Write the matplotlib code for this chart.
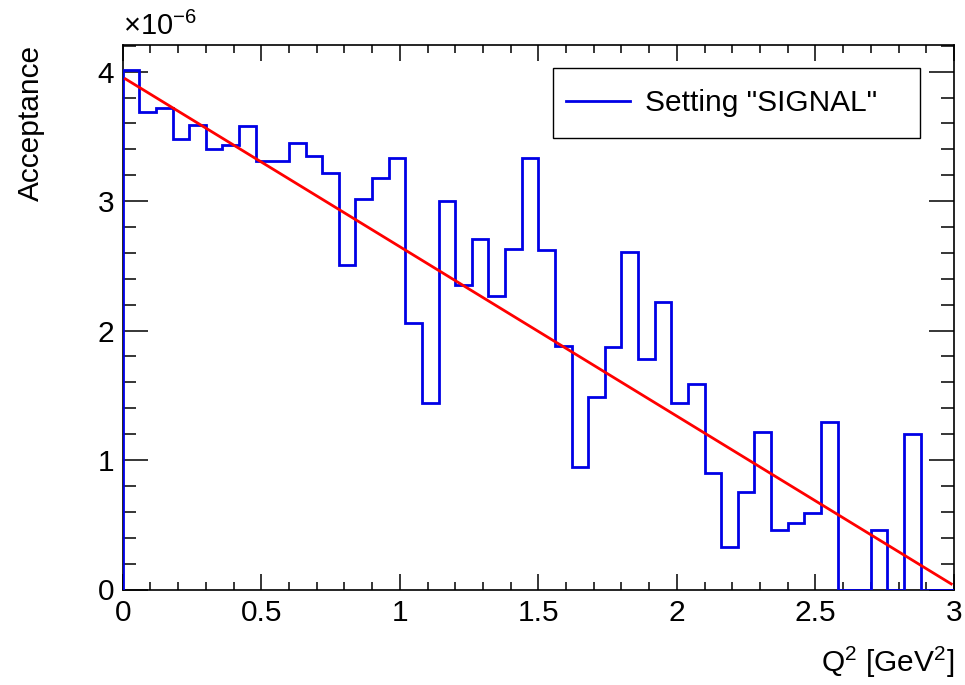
import numpy as np
import matplotlib
matplotlib.use("Agg")
import matplotlib.pyplot as plt
from matplotlib.patches import Rectangle
from matplotlib.lines import Line2D
from matplotlib.ticker import MultipleLocator

plt.rcParams["font.family"] = ["Liberation Sans", "DejaVu Sans"]
plt.rcParams["mathtext.fontset"] = "custom"
plt.rcParams["mathtext.rm"] = "Liberation Sans"
plt.rcParams["mathtext.it"] = "Liberation Sans:italic"
plt.rcParams["mathtext.default"] = "regular"

# Q^2 binning: 50 bins of 0.06 GeV^2 from 0 to 3
bin_edges = np.linspace(0.0, 3.0, 51)

# Acceptance per bin, in units of 1e-6
acceptance = [
    4.01, 3.69, 3.72, 3.48, 3.59, 3.40, 3.43, 3.58, 3.31, 3.31,
    3.45, 3.35, 3.22, 2.51, 3.02, 3.18, 3.33, 2.06, 1.44, 3.00,
    2.35, 2.71, 2.27, 2.63, 3.33, 2.62, 1.88, 0.95, 1.49, 1.87,
    2.61, 1.78, 2.22, 1.44, 1.59, 0.90, 0.33, 0.75, 1.22, 0.46,
    0.51, 0.59, 1.29, 0.00, 0.00, 0.46, 0.00, 1.20, 0.00, 0.00,
]

# Linear fit (pol1) parameters and drawing range
fit_p0 = 3.957
fit_p1 = -1.309
fit_range = (0.01, 2.99)

legend_label = 'Setting "SIGNAL"'

fig = plt.figure(figsize=(9.65, 6.85), dpi=100)
ax = fig.add_axes([122.7 / 965, 1 - 589.5 / 685, (954 - 122.7) / 965, (589.5 - 45) / 685])

ax.stairs(acceptance, bin_edges, baseline=0, color="#0000e6", linewidth=2.0, zorder=3)

xf = np.linspace(fit_range[0], fit_range[1], 100)
ax.plot(xf, fit_p0 + fit_p1 * xf, color="#ff0000", linewidth=2.0, zorder=4)

ax.set_xlim(0, 3)
ax.set_ylim(0, 4.206)

ax.xaxis.set_minor_locator(MultipleLocator(0.1))
ax.yaxis.set_minor_locator(MultipleLocator(0.2))
ax.set_xticks([0, 0.5, 1, 1.5, 2, 2.5, 3])
ax.set_xticklabels(["0", "0.5", "1", "1.5", "2", "2.5", "3"])
ax.set_yticks([0, 1, 2, 3, 4])
ax.set_yticklabels(["0", "1", "2", "3", "4"])

ax.tick_params(which="both", direction="in", top=True, right=True, width=1.1,
               labelsize=21.5, colors="black")
ax.tick_params(axis="x", which="major", length=11.5, pad=7)
ax.tick_params(axis="x", which="minor", length=5.8)
ax.tick_params(axis="y", which="major", length=18, pad=6)
ax.tick_params(axis="y", which="minor", length=9.4)
for sp in ax.spines.values():
    sp.set_linewidth(1.2)

ax.set_xlabel(r"Q$^{2}$ [GeV$^{2}$]", fontsize=21.5, loc="right")
ax.xaxis.set_label_coords(1.0, -0.102)
ax.set_ylabel("Acceptance", fontsize=21.5, loc="top")
ax.yaxis.set_label_coords(-0.093, 1.0)

ax.text(0.0, 1.008, r"$\times$10$^{-6}$", transform=ax.transAxes,
        fontsize=21, ha="left", va="bottom")

# Legend box
x0, y0, x1, y1 = 553 / 965, 1 - 138 / 685, 920 / 965, 1 - 68 / 685
ax.add_patch(Rectangle((x0, y0), x1 - x0, y1 - y0, transform=fig.transFigure,
                       facecolor="white", edgecolor="black", linewidth=1.0,
                       clip_on=False, zorder=5))
leg = ax.legend([Line2D([], [], color="#0000e6", linewidth=2.0)], [legend_label],
                loc="center left", bbox_to_anchor=(x0, (y0 + y1) / 2),
                bbox_transform=fig.transFigure, frameon=False, fontsize=21.5,
                handlelength=2.13, handletextpad=0.5, borderpad=0.0, borderaxespad=0.45)
leg.set_zorder(6)

fig.savefig("out.png", dpi=100)
